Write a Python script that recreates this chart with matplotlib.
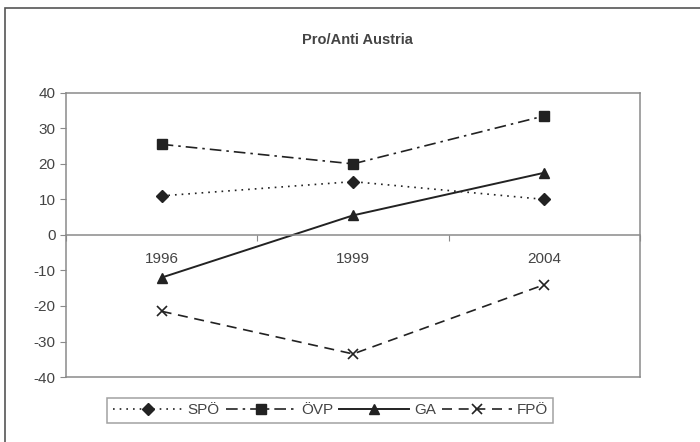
import matplotlib.pyplot as plt
from matplotlib.patches import Rectangle

# Data
years = ['1996', '1999', '2004']
spoe = [11, 15, 10]
oevp = [25.5, 20, 33.5]
ga = [-12, 5.5, 17.5]
fpoe = [-21.5, -33.5, -14]

plt.rcParams['font.family'] = ['Liberation Sans', 'DejaVu Sans']
plt.rcParams['axes.unicode_minus'] = False

fig = plt.figure(figsize=(7, 4.42), dpi=100)
ax = fig.add_axes([0.0943, 0.147, 0.82, 0.643])

# outer chart border
fig.patches.append(Rectangle((5 / 700, -0.01), 1, 1 - 8 / 442 + 0.01, transform=fig.transFigure,
                             fill=False, edgecolor='#555555', linewidth=1.2))

x = range(len(years))
dark = '#222222'
ax.plot(x, spoe, linestyle=(0, (1, 3)), color=dark, marker='D', markersize=6, linewidth=1.2, label='SPÖ')
ax.plot(x, oevp, linestyle=(0, (7, 3, 1.5, 3)), color=dark, marker='s', markersize=6.5, linewidth=1.2, label='ÖVP')
ax.plot(x, ga, linestyle='-', color=dark, marker='^', markersize=7, linewidth=1.4, label='GA')
ax.plot(x, fpoe, linestyle=(0, (6, 4)), color=dark, marker='x', markersize=7, markeredgewidth=1.2,
        linewidth=1.2, label='FPÖ')

ax.set_xlim(-0.5, 2.5)
ax.set_ylim(-40, 40)
ax.set_yticks(range(-40, 41, 10))

frame = '#8a8a8a'
for s in ['top', 'left', 'right', 'bottom']:
    ax.spines[s].set_color(frame)
    ax.spines[s].set_linewidth(1.1)
ax.spines['bottom'].set_position(('data', 0))
ax.axhline(-40, color=frame, linewidth=1.1, clip_on=False)

# category boundaries as major ticks, labels on minor ticks
ax.set_xticks([-0.5, 0.5, 1.5, 2.5])
ax.set_xticklabels([])
ax.set_xticks(list(x), minor=True)
ax.set_xticklabels(years, minor=True)
ax.tick_params(axis='x', which='major', length=4, color=frame, direction='out')
ax.tick_params(axis='x', which='minor', length=0, pad=12, labelsize=11, labelcolor='#444444')
ax.tick_params(axis='y', length=4, color=frame, labelsize=11, labelcolor='#444444')

fig.text(0.511, 0.91, 'Pro/Anti Austria', ha='center', va='center', fontsize=10.5,
         fontweight='bold', color='#444444')

leg = fig.legend(loc='center', bbox_to_anchor=(0.472, 0.072), ncol=4, frameon=True,
                 fancybox=False, edgecolor=frame, fontsize=11, handlelength=4.6,
                 handletextpad=0.3, columnspacing=0.4, borderpad=0.35)
leg.get_frame().set_linewidth(1.1)
for t in leg.get_texts():
    t.set_color('#444444')

fig.savefig('out.png', dpi=100)
